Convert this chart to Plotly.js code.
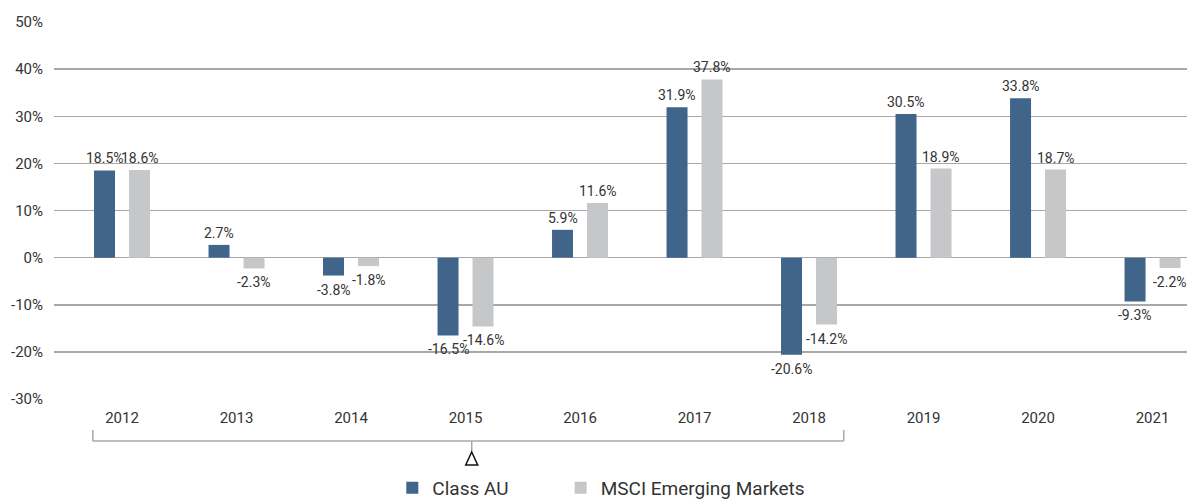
<!DOCTYPE html>
<html>
<head>
<meta charset="utf-8">
<script src="https://cdn.plot.ly/plotly-3.0.1.min.js"></script>
<style>html,body{margin:0;padding:0;background:#fff;}#chart{width:1187px;height:500px;}</style>
</head>
<body>
<div id="chart"></div>
<script>
const years = ['2012','2013','2014','2015','2016','2017','2018','2019','2020','2021'];
const classAU = [18.5, 2.7, -3.8, -16.5, 5.9, 31.9, -20.6, 30.5, 33.8, -9.3];
const msciEM = [18.6, -2.3, -1.8, -14.6, 11.6, 37.8, -14.2, 18.9, 18.7, -2.2];
const seriesNames = ['Class AU', 'MSCI Emerging Markets'];
const yTicks = [-30, -20, -10, 0, 10, 20, 30, 40, 50];

const FONT = 'Roboto, "Noto Sans", sans-serif';
const TXT = '#333333';
const BW = 0.1834;
const OFFS = [-0.2445, 0.0611];
const COLORS = ['#41648a', '#c6c7c9'];
const SERIES = [classAU, msciEM];

function barTrace(k) {
  return {
    type: 'bar', name: seriesNames[k] + (k === 0 ? '\u00A0'.repeat(10) : ''),
    x: years, y: SERIES[k],
    width: BW, offset: OFFS[k],
    marker: {color: COLORS[k]},
    hoverinfo: 'x+y'
  };
}
const traces = [barTrace(0), barTrace(1)];

// value labels built from the data arrays
const annotations = [];
SERIES.forEach((vals, k) => {
  vals.forEach((v, i) => {
    annotations.push({
      xref: 'x', yref: 'y', x: i + OFFS[k] + BW / 2, y: v,
      text: v.toFixed(1) + '%', showarrow: false, borderpad: 0,
      yanchor: v >= 0 ? 'bottom' : 'top', yshift: v >= 0 ? 3 : -5,
      font: {family: FONT, size: 14, color: TXT}
    });
  });
});

// bracket below axis (paper y: plot bottom = 0, plot height 377px)
const H = 377;
const py = px => -(px - 399) / H;
const lineStyle = {color: '#a8a8a8', width: 1.5};
const shapes = [
  {type: 'line', xref: 'x', yref: 'paper', x0: -0.255, x1: 6.303, y0: py(441), y1: py(441), line: lineStyle},
  {type: 'line', xref: 'x', yref: 'paper', x0: -0.255, x1: -0.255, y0: py(430), y1: py(441), line: lineStyle},
  {type: 'line', xref: 'x', yref: 'paper', x0: 6.303, x1: 6.303, y0: py(430), y1: py(441), line: lineStyle},
  {type: 'line', xref: 'x', yref: 'paper', x0: 3.054, x1: 3.054, y0: py(441), y1: py(452), line: lineStyle},
  {type: 'path', xref: 'x', yref: 'paper', xsizemode: 'pixel', ysizemode: 'pixel',
   xanchor: 3.054, yanchor: py(452), path: 'M0,0L6,-13L-6,-13Z',
   line: {color: '#111', width: 1.5}, fillcolor: 'rgba(0,0,0,0)'}
];

const layout = {
  width: 1187, height: 500,
  margin: {l: 54, r: 0, t: 22, b: 101, pad: 0},
  paper_bgcolor: '#ffffff', plot_bgcolor: '#ffffff',
  font: {family: FONT, color: TXT, size: 15},
  barmode: 'group',
  showlegend: true,
  legend: {
    orientation: 'h', xref: 'container', yref: 'container',
    x: 0.3305, xanchor: 'left', y: 0.024, yanchor: 'middle',
    font: {family: FONT, size: 19, color: TXT},
    traceorder: 'normal'
  },
  xaxis: {
    type: 'category', range: [-0.594, 9.301],
    showgrid: false, zeroline: false, showline: false, ticks: '',
    tickfont: {family: FONT, size: 15, color: TXT},
    ticklabelstandoff: 8, fixedrange: true
  },
  yaxis: {
    range: [-30, 50], tickvals: yTicks, ticktext: yTicks.map(v => v + '%'),
    showgrid: true, gridcolor: '#a8a8a8', gridwidth: 1.5,
    zeroline: true, zerolinecolor: '#a8a8a8', zerolinewidth: 1.5,
    showline: false, ticks: '',
    tickfont: {family: FONT, size: 15, color: TXT},
    ticklabelstandoff: 10, fixedrange: true
  },
  annotations: annotations,
  shapes: shapes
};

Plotly.newPlot('chart', traces, layout, {displayModeBar: false, staticPlot: true});
</script>
</body>
</html>
